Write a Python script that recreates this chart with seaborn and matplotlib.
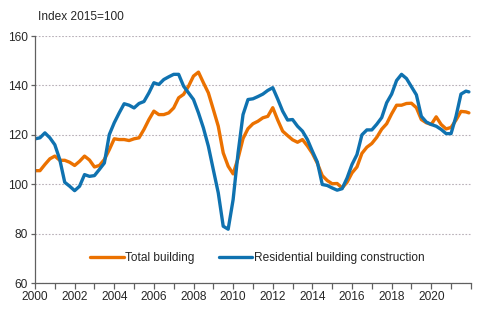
import numpy as np
import pandas as pd
import matplotlib
matplotlib.use("Agg")
import matplotlib.pyplot as plt
import seaborn as sns
from matplotlib.ticker import MultipleLocator, FuncFormatter

# Time axis (decimal years, quarterly readings plus last observation)
years = list(np.arange(2000, 2022, 0.25)) + [2021.9]

total_building = [
    105.5, 105.5, 108.0, 110.3, 111.4, 109.7, 109.7, 108.9,
    107.6, 109.3, 111.4, 109.8, 107.0, 107.6, 110.0, 114.0,
    118.4, 118.1, 118.1, 117.7, 118.4, 118.8, 122.2, 126.2,
    129.6, 128.2, 128.2, 128.9, 130.9, 135.0, 136.4, 139.7,
    143.8, 145.4, 141.1, 137.0, 130.3, 123.5, 112.7, 107.3,
    104.2, 110.5, 118.5, 122.5, 124.5, 125.5, 126.9, 127.5,
    131.0, 126.0, 121.5, 119.7, 118.0, 117.0, 118.1, 115.5,
    112.5, 108.5, 103.5, 101.5, 100.2, 100.3, 98.5, 100.8,
    104.6, 107.0, 112.5, 115.0, 116.5, 119.0, 122.3, 124.5,
    128.5, 132.0, 132.0, 132.7, 132.8, 131.0, 126.2, 124.9,
    124.2, 127.3, 124.2, 122.4, 123.0, 126.0, 129.5, 129.3,
    128.9,
]

residential = [
    118.4, 118.8, 120.8, 118.8, 116.0, 110.0, 100.8, 99.2,
    97.4, 99.2, 103.9, 103.2, 103.5, 106.0, 108.6, 120.1,
    124.9, 128.9, 132.6, 132.0, 130.9, 132.7, 133.5, 137.0,
    141.1, 140.4, 142.4, 143.5, 144.5, 144.5, 139.7, 137.0,
    134.3, 128.9, 122.8, 115.4, 105.9, 96.5, 83.0, 81.8,
    93.8, 112.7, 128.2, 134.3, 134.6, 135.5, 136.5, 138.0,
    139.1, 134.5, 129.6, 126.0, 126.2, 123.5, 121.5, 118.1,
    113.4, 109.0, 99.9, 99.5, 98.5, 97.6, 98.2, 102.5,
    108.0, 112.0, 120.0, 122.0, 122.0, 124.3, 127.0, 133.0,
    136.5, 142.0, 144.5, 142.8, 139.5, 136.2, 127.5, 125.2,
    124.2, 123.5, 122.2, 120.5, 120.5, 127.5, 136.5, 137.7,
    137.4,
]

series_names = ["Total building", "Residential building construction"]
colors = ["#EB7100", "#0F72B0"]

df = pd.DataFrame({
    "year": years * 2,
    "value": total_building + residential,
    "series": [series_names[0]] * len(years) + [series_names[1]] * len(years),
})

sns.set_theme(style="white")
plt.rcParams["font.family"] = ["Liberation Sans", "DejaVu Sans"]

fig = plt.figure(figsize=(4.91, 3.22), dpi=100)
ax = fig.add_axes([0.0713, 0.121, 0.8877, 0.767])

sns.lineplot(data=df, x="year", y="value", hue="series",
             palette=colors, hue_order=series_names,
             linewidth=2.4, ax=ax, legend=True)

ax.set_xlim(2000, 2022)
ax.set_ylim(60, 160)
ax.yaxis.set_major_locator(MultipleLocator(20))
ax.xaxis.set_major_locator(MultipleLocator(1))
ax.xaxis.set_major_formatter(FuncFormatter(lambda v, p: f"{int(round(v))}" if int(round(v)) % 2 == 0 and v < 2021.5 else ""))

ax.grid(axis="y", color="#B8B0B8", linestyle=(0, (1.5, 1.5)), linewidth=0.8)
ax.set_axisbelow(True)

for side in ["top", "right"]:
    ax.spines[side].set_visible(False)
for side in ["left", "bottom"]:
    ax.spines[side].set_color("#606060")
    ax.spines[side].set_linewidth(0.9)

ax.tick_params(axis="x", which="major", direction="out", length=4, width=0.9,
               color="#606060", labelsize=8.6, pad=2, bottom=True)
ax.tick_params(axis="y", which="major", direction="out", length=3, width=0.9,
               color="#606060", labelsize=8.6, pad=2, left=True)
ax.set_xlabel("")
ax.set_ylabel("")

ax.legend(loc="center", bbox_to_anchor=(0.51, 0.10), ncol=2, frameon=False,
          fontsize=8.6, handlelength=2.8, handletextpad=0.15, columnspacing=2.0)

fig.text(38 / 491, 1 - 16.5 / 322, "Index 2015=100", fontsize=8.6,
         ha="left", va="center")

fig.savefig("out.png", dpi=100)
